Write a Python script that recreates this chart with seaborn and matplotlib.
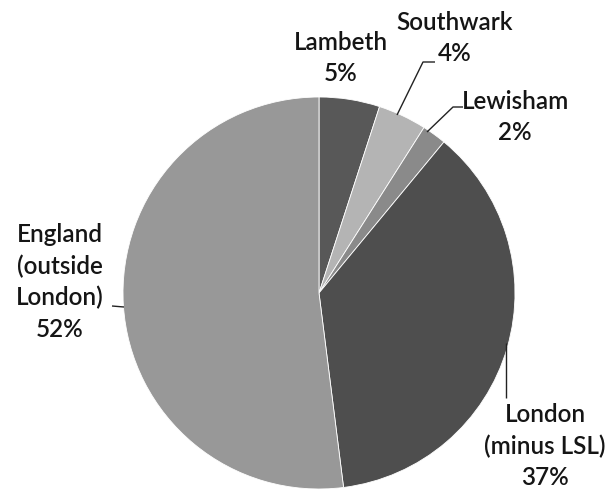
import matplotlib
matplotlib.use("Agg")
import matplotlib.pyplot as plt
import seaborn as sns

# Share of residents by area
areas = ["Lambeth", "Southwark", "Lewisham", "London\n(minus LSL)", "England\n(outside\nLondon)"]
shares = [5, 4, 2, 37, 52]
colors = ["#585858", "#b4b4b4", "#8a8a8a", "#4e4e4e", "#989898"]

sns.set_theme(style="white")
plt.rcParams["font.family"] = ["Lato", "DejaVu Sans"]

W, H = 608, 490
fig = plt.figure(figsize=(W / 100, H / 100), dpi=100)
ax = fig.add_axes([0, 0, 1, 1])

cx, cy, r = 319, 293, 196
# y axis is inverted, so counterclock=True draws clockwise on screen
wedges, _ = ax.pie(
    shares,
    colors=colors,
    startangle=-90,
    counterclock=True,
    center=(cx, cy),
    radius=r,
    wedgeprops=dict(edgecolor="white", linewidth=0.6),
    frame=True,
)
ax.set_xlim(0, W)
ax.set_ylim(H, 0)
ax.set_aspect("equal")
ax.axis("off")

label_pos = [(341, 58), (455, 38), (515, 117), (545, 446), (60, 282)]
txt_kw = dict(ha="center", va="center", fontsize=17.5, fontweight="semibold",
              color="#151515", linespacing=1.42, multialignment="center")
for name, val, (x, y) in zip(areas, shares, label_pos):
    ax.text(x, y, f"{name}\n{val}%", **txt_kw)

# Leader lines
line_kw = dict(color="#222222", linewidth=1.0, solid_capstyle="butt")
ax.plot([397, 423, 435], [115, 62, 62], **line_kw)
ax.plot([427, 453, 463], [132, 107, 107], **line_kw)
ax.plot([112, 124], [306, 307], **line_kw)
ax.plot([506, 506], [343, 398], **line_kw)

fig.savefig("out.png", dpi=100, facecolor="white")
